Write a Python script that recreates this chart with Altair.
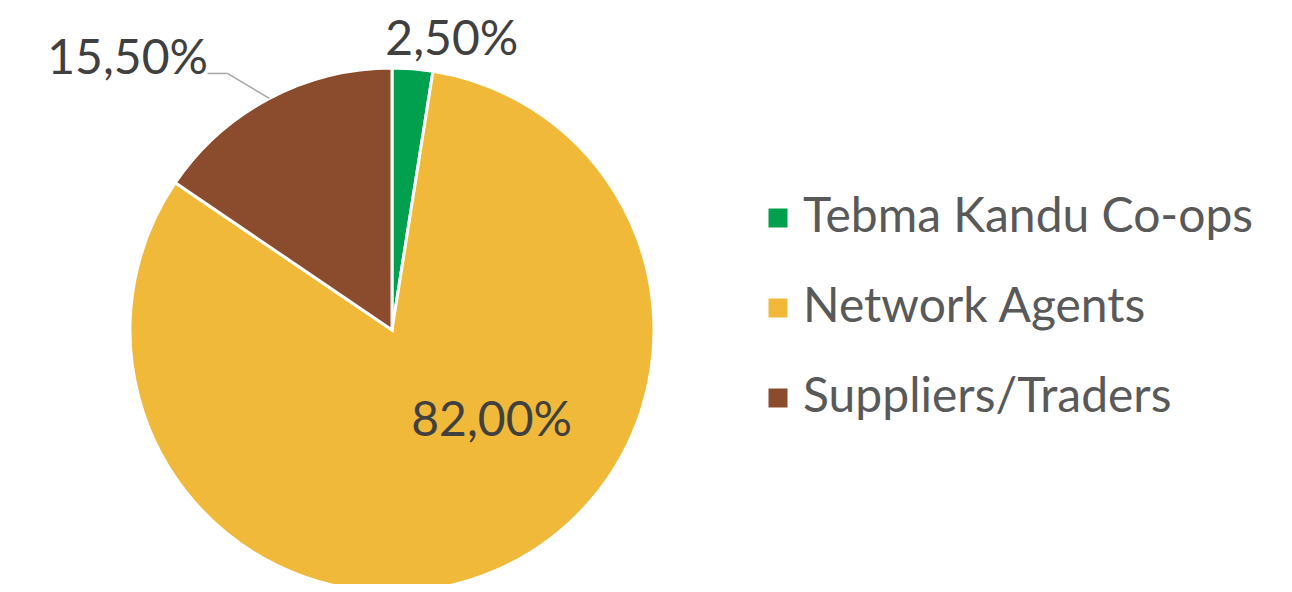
import math
import altair as alt
import pandas as pd

categories = ["Tebma Kandu Co-ops", "Network Agents", "Suppliers/Traders"]
shares = [2.5, 82.0, 15.5]
labels = ["2,50%", "82,00%", "15,50%"]
colors = ["#00A04F", "#F0B93A", "#8B4C2E"]

W, H = 1276, 576
CX, CY, R = 384, 322, 262

df = pd.DataFrame({
    "cat": categories,
    "share": shares,
    "label": labels,
    "order": list(range(len(categories))),
})

pie = alt.Chart(df).mark_arc(radius=R, stroke="white", strokeWidth=3).encode(
    theta=alt.Theta("share:Q", stack=True, scale=alt.Scale(domain=[0, 100])),
    order=alt.Order("order:Q"),
    x=alt.value(CX), y=alt.value(CY),
    color=alt.Color(
        "cat:N",
        scale=alt.Scale(domain=categories, range=colors),
        sort=categories,
        legend=alt.Legend(
            title=None, orient="none", legendX=746, legendY=186,
            symbolType="square", symbolSize=361, symbolStrokeWidth=0,
            labelFont="Lato", labelFontSize=48, labelColor="#595959",
            labelOffset=1, rowPadding=42, padding=0, symbolOffset=0,
            labelLimit=600,
        ),
    ),
)

text_base = alt.Chart(df).transform_window(
    cum="sum(share)", sort=[alt.SortField("order")], frame=[None, 0]
).transform_calculate(mid="datum.cum - datum.share / 2")

def label_layer(cat, radius, dx, dy):
    return text_base.transform_filter(alt.datum.cat == cat).mark_text(
        radius=radius, dx=dx, dy=dy, font="Lato", fontSize=48, color="#404040",
        align="center", baseline="middle",
    ).encode(
        theta=alt.Theta("mid:Q", stack=None, scale=alt.Scale(domain=[0, 100])),
        x=alt.value(CX), y=alt.value(CY), text="label:N",
    )

# Mid angles: green 4.5deg, yellow 156.6deg, brown 332.1deg
lbl_green = label_layer(categories[0], 290, 37, 0)
lbl_yellow = label_layer(categories[1], 150, 40, -46)
lbl_brown = label_layer(categories[2], 330, -110, 22)

# leader line for the brown slice, from its mid-angle on the rim
cum = sum(shares[:2])
mid = (cum + shares[2] / 2) / sum(shares) * 2 * math.pi
px, py = CX + R * math.sin(mid), CY - R * math.cos(mid)
ex, ey = px - 42, py - 25
leader = pd.DataFrame({"x": [px, ex], "y": [py, ey], "x2": [ex, ex - 20], "y2": [ey, ey]})
lead = alt.Chart(leader).mark_rule(color="#A6A6A6", strokeWidth=1.5).encode(
    x=alt.X("x:Q", scale=alt.Scale(domain=[0, W]), axis=None),
    y=alt.Y("y:Q", scale=alt.Scale(domain=[H, 0]), axis=None),
    x2="x2:Q", y2="y2:Q",
)

chart = alt.layer(pie, lead, lbl_green, lbl_yellow, lbl_brown).properties(
    width=W, height=H, padding=0, autosize=alt.AutoSizeParams(type="none"),
).configure_view(stroke=None)

chart.save("out.html", embed_options={"renderer": "svg", "actions": False})
